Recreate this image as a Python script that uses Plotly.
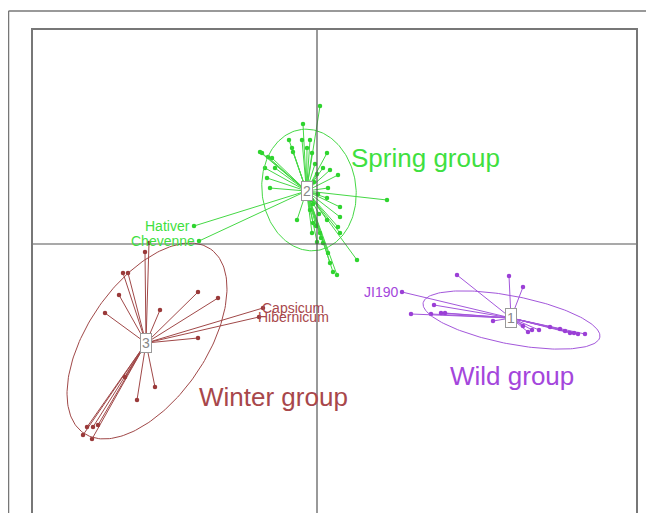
import numpy as np
import plotly.graph_objects as go

# ---------------- data (factorial coordinates) ----------------
wild_x = [1.40, 1.92, 2.06, 0.85, 1.17, 0.94, 1.14, 1.24, 1.28, 1.76, 2.06, 2.11, 2.15, 2.22,
          2.33, 2.43, 2.48, 2.53, 2.57, 2.61, 2.68]
wild_y = [-0.31, -0.32, -0.43, -0.48, -0.61, -0.70, -0.70, -0.69, -0.69, -0.77, -0.82, -0.88, -0.86, -0.86,
          -0.83, -0.85, -0.87, -0.89, -0.89, -0.90, -0.90]

spring_x = [0.03, -0.14, -0.28, -0.15, -0.07, -0.57, -0.55, -0.49, -0.45, -0.25, -0.24, -0.10, -0.05,
            0.10, 0.06, 0.13, 0.21, -0.52, -0.42, -0.50, -0.47, 0.11, 0.10, -0.07, -0.05, -0.20,
            -0.07, 0.23, 0.23, 0.10, 0.21, 0.23, 0.03, 0.06, 0.40, 0.11, 0.13, 0.16, 0.20, -0.04,
            -0.05, 0.00, 0.70, -0.02, 0.00, -0.03, 0.01, -0.04, 0.02, -0.01, 0.04, -1.23, -1.18]
spring_y = [1.38, 1.20, 1.04, 1.04, 1.04, 0.92, 0.91, 0.87, 0.86, 0.96, 0.92, 0.96, 0.91,
            0.91, 0.76, 0.74, 0.69, 0.76, 0.76, 0.66, 0.56, 0.56, 0.46, 0.54, 0.44, 0.24,
            0.34, 0.37, 0.27, 0.24, 0.17, 0.11, 0.11, 0.01, -0.16, -0.09, -0.19, -0.28, -0.31, 0.21,
            0.11, 0.02, 0.44, 0.80, 0.70, 0.62, 0.50, 0.40, 0.30, 0.18, 0.06, 0.18, 0.03]

winter_x = [-1.68, -1.72, -1.94, -1.89, -1.98, -2.12, -1.19, -0.99, -1.57, -1.19, -1.62, -1.80,
            -2.30, -2.24, -2.19, -2.34, -2.25, -1.92, -0.54, -0.58]
winter_y = [0.01, -0.08, -0.29, -0.29, -0.51, -0.69, -0.48, -0.54, -0.66, -0.94, -1.43, -1.56,
            -1.83, -1.83, -1.81, -1.91, -1.95, -1.33, -0.64, -0.73]

# group centres (gravity centres) and ellipse parameters
group_ids = ["1", "2", "3"]
group_names = ["Wild group", "Spring group", "Winter group"]
center_x = [1.94, -0.105, -1.71]
center_y = [-0.74, 0.53, -0.99]
ell_cx = [1.945, -0.08, -1.70]
ell_cy = [-0.76, 0.54, -0.97]
ell_a = [0.90, 0.61, 1.118]
ell_b = [0.24, 0.47, 0.591]
ell_angle = [-11.0, 97.0, 55.4]
name_x = [1.95, 1.08, -0.44]
name_y = [-1.32, 0.86, -1.53]

# named individuals
lab_text = ["JI190", "Hativer", "Chevenne", "Capsicum", "Hibernicum"]
lab_x = [0.85, -1.23, -1.18, -0.54, -0.58]
lab_y = [-0.48, 0.18, 0.03, -0.64, -0.73]
lab_group = [0, 1, 1, 2, 2]
lab_side = ["left", "left", "left", "right", "right"]

# ---------------- styling ----------------
pt_col = ["#9b3fd6", "#2fd42f", "#9a3a3a"]
line_col = ["#a357db", "#45d845", "#a04848"]
txt_col = ["#a446dc", "#3fe03f", "#a8474b"]

groups_x = [wild_x, spring_x, winter_x]
groups_y = [wild_y, spring_y, winter_y]

fig = go.Figure()

for g in range(3):
    xs, ys = [], []
    for px, py in zip(groups_x[g], groups_y[g]):
        xs += [center_x[g], px, None]
        ys += [center_y[g], py, None]
    fig.add_trace(go.Scatter(x=xs, y=ys, mode="lines",
                             line=dict(color=line_col[g], width=1), hoverinfo="skip"))
    fig.add_trace(go.Scatter(x=groups_x[g], y=groups_y[g], mode="markers",
                             marker=dict(color=pt_col[g], size=4.5), hoverinfo="skip"))
    t = np.linspace(0, 2 * np.pi, 200)
    th = np.deg2rad(ell_angle[g])
    ex = ell_cx[g] + ell_a[g] * np.cos(t) * np.cos(th) - ell_b[g] * np.sin(t) * np.sin(th)
    ey = ell_cy[g] + ell_a[g] * np.cos(t) * np.sin(th) + ell_b[g] * np.sin(t) * np.cos(th)
    fig.add_trace(go.Scatter(x=ex, y=ey, mode="lines",
                             line=dict(color=line_col[g], width=1), hoverinfo="skip"))

annotations = []
for g in range(3):
    annotations.append(dict(x=center_x[g], y=center_y[g], text=group_ids[g], showarrow=False,
                            font=dict(family="Liberation Sans, Arial", size=14, color="#888888"),
                            bgcolor="white", bordercolor="#999999", borderwidth=1, borderpad=1))
    annotations.append(dict(x=name_x[g], y=name_y[g], text=group_names[g], showarrow=False,
                            font=dict(family="Liberation Sans, Arial", size=26, color=txt_col[g])))
for i in range(len(lab_text)):
    g = lab_group[i]
    annotations.append(dict(x=lab_x[i], y=lab_y[i], text=lab_text[i], showarrow=False,
                            xanchor="right" if lab_side[i] == "left" else "left",
                            xshift=-2 if lab_side[i] == "left" else -3,
                            font=dict(family="Liberation Sans, Arial", size=14, color=txt_col[g])))

shapes = [
    dict(type="line", xref="x", yref="paper", x0=0, x1=0, y0=0, y1=1,
         line=dict(color="#555555", width=1.2)),
    dict(type="line", xref="paper", yref="y", x0=0, x1=1, y0=0, y1=0,
         line=dict(color="#555555", width=1.2)),
    # outer frame
    dict(type="line", xref="paper", yref="paper", x0=-0.0406, x1=-0.0406, y0=-0.05, y1=1.0393,
         line=dict(color="#777777", width=1.5)),
    dict(type="line", xref="paper", yref="paper", x0=-0.0406, x1=1.05, y0=1.0393, y1=1.0393,
         line=dict(color="#777777", width=1.5)),
]

fig.update_layout(
    width=646, height=505,
    margin=dict(l=25, r=18, t=22, b=0),
    paper_bgcolor="white", plot_bgcolor="white",
    showlegend=False,
    xaxis=dict(range=[-2.84, 3.19], showgrid=False, zeroline=False, showticklabels=False,
               ticks="", showline=True, mirror=True, linecolor="#777777", linewidth=2),
    yaxis=dict(range=[-2.69, 2.14], showgrid=False, zeroline=False, showticklabels=False,
               ticks="", showline=True, mirror=True, linecolor="#777777", linewidth=2),
    annotations=annotations,
    shapes=shapes,
)

fig.write_html("out.html")
